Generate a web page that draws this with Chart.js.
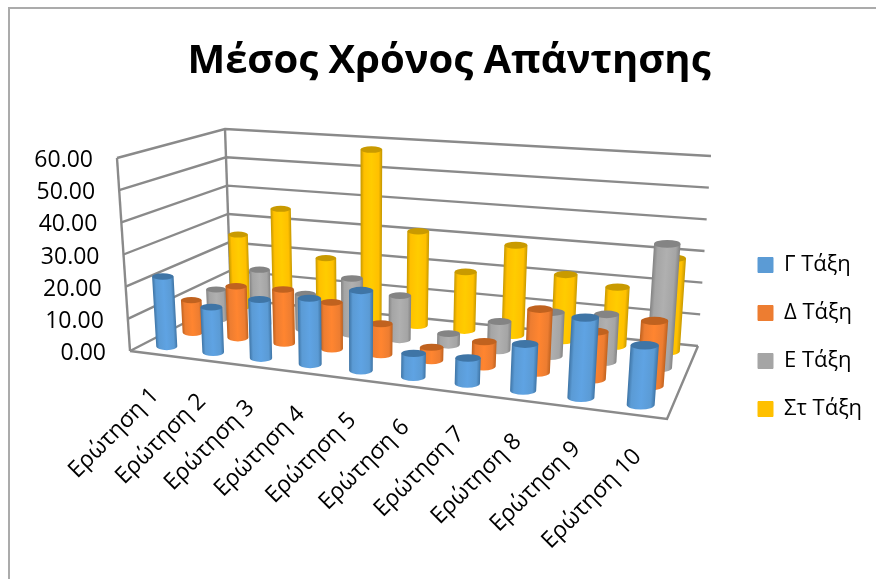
<!DOCTYPE html>
<html>
<head>
<meta charset="utf-8">
<title>Μέσος Χρόνος Απάντησης</title>
<script src="https://cdn.jsdelivr.net/npm/chart.js@4"></script>
<style>
  body { margin: 0; background: #fff; }
  #frame { position: absolute; left: 8px; top: 7px; width: 868px; height: 572px; border-left: 2px solid #ababab; border-top: 2px solid #ababab; box-sizing: border-box; }
  #graphique { position: absolute; left: 0; top: 0; }
</style>
</head>
<body>
<div id="frame"></div>
<canvas id="graphique" width="876" height="579"></canvas>
<script>
const categories = ['Ερώτηση 1', 'Ερώτηση 2', 'Ερώτηση 3', 'Ερώτηση 4', 'Ερώτηση 5', 'Ερώτηση 6', 'Ερώτηση 7', 'Ερώτηση 8', 'Ερώτηση 9', 'Ερώτηση 10'];
const seriesNames = ['Γ Τάξη', 'Δ Τάξη', 'Ε Τάξη', 'Στ Τάξη'];
const tickValues = [0, 10, 20, 30, 40, 50, 60];
const tickLabels = ['0.00', '10.00', '20.00', '30.00', '40.00', '50.00', '60.00'];

const gTaxi = [22, 14, 18, 20, 24, 7, 7.5, 13.5, 23, 17];
const dTaxi = [10.5, 16.5, 17, 14.5, 9.5, 4, 7.5, 19, 14, 19];
const eTaxi = [10, 18, 11.5, 18, 14, 3.5, 9, 13.5, 14.5, 37.5];
const stTaxi = [25, 35, 19.5, 57, 31, 19, 29, 21, 18.5, 29];

const seriesValues = [gTaxi, dTaxi, eTaxi, stTaxi];
const bodyColors = ['#5b9bd5', '#ed7d31', '#a5a5a5', '#ffc000'];
const lightColors = ['#5fa3e3', '#ff8530', '#b0b0b0', '#ffcc00'];
const darkColors = ['#3f75a6', '#c0621f', '#848484', '#c99a00'];

// coins du plancher (avant-gauche, avant-droit, arriere-droit, arriere-gauche)
// et decalage de chaque coin pour la hauteur maximale de l'axe
const floorBox = [[130, 351], [667, 419], [698, 346], [231, 299]];
const roofOffset = [[-13, -193], [16, -215], [13, -190], [-6, -170]];
const TITLE_H = 82;
const LEFT_PAD = 22;

function homographie(q) {
  const [p0, p1, p2, p3] = q;
  const sx = p0[0] - p1[0] + p2[0] - p3[0], sy = p0[1] - p1[1] + p2[1] - p3[1];
  const dx1 = p1[0] - p2[0], dx2 = p3[0] - p2[0], dy1 = p1[1] - p2[1], dy2 = p3[1] - p2[1];
  const det = dx1 * dy2 - dx2 * dy1;
  const g = (sx * dy2 - dx2 * sy) / det, h = (dx1 * sy - sx * dy1) / det;
  const a = p1[0] - p0[0] + g * p1[0], b = p3[0] - p0[0] + h * p3[0];
  const d = p1[1] - p0[1] + g * p1[1], e = p3[1] - p0[1] + h * p3[1];
  return (u, v) => {
    const w = g * u + h * v + 1;
    return [(a * u + b * v + p0[0]) / w, (d * u + e * v + p0[1]) / w];
  };
}
const floorAt = homographie(floorBox);

// melange avec le bilineaire : la perspective pure serre trop le milieu
function plancher(u, v) {
  const h = floorAt(u, v);
  return [0, 1].map(k => {
    const b = (floorBox[0][k] * (1 - u) + floorBox[1][k] * u) * (1 - v) + (floorBox[3][k] * (1 - u) + floorBox[2][k] * u) * v;
    return h[k] * 0.8 + b * 0.2;
  });
}

// u : le long des categories, v : profondeur, val : hauteur
function projeter(u, v, val) {
  const f = plancher(u, v), t = val / 60;
  const mix = k => (roofOffset[0][k] * (1 - u) + roofOffset[1][k] * u) * (1 - v) + (roofOffset[3][k] * (1 - u) + roofOffset[2][k] * u) * v;
  return { x: f[0] + mix(0) * t, y: f[1] + mix(1) * t };
}

const DEMI_LARGEUR = 0.023;
function pointCylindre(i, s, val) {
  const u = (i + 0.5) / categories.length, v = (s + 0.5) / seriesNames.length;
  const g = projeter(u - DEMI_LARGEUR, v, val), d = projeter(u + DEMI_LARGEUR, v, val);
  return { ...projeter(u, v, val), r: Math.abs(d.x - g.x) / 2 };
}

const datasets = seriesNames.map((name, s) => ({
  label: name,
  backgroundColor: bodyColors[s],
  borderColor: bodyColors[s],
  pointRadius: 0,
  showLine: false,
  cylindre: s,
  data: seriesValues[s].flatMap((val, i) => [pointCylindre(i, s, 0), pointCylindre(i, s, val)])
}));

function ligneGrille(points) {
  datasets.push({ data: points, showLine: true, borderColor: '#8a8a8a', borderWidth: 2.4, pointRadius: 0, backgroundColor: '#8a8a8a' });
}
tickValues.forEach(val => {
  ligneGrille([projeter(0, 0, val), projeter(0, 1, val), projeter(1, 1, val)]);
});
ligneGrille([projeter(0, 0, 0), projeter(0, 0, 60)]);
ligneGrille([projeter(0, 1, 0), projeter(0, 1, 60)]);
ligneGrille([projeter(0, 0, 0), projeter(1, 0, 0), projeter(1, 1, 0)]);

const cylindres = {
  id: 'cylindres',
  afterDatasetDraw(chart, args) {
    const ds = chart.data.datasets[args.index];
    if (ds.cylindre === undefined) return;
    const ctx = chart.ctx, pts = args.meta.data, s = ds.cylindre;
    ctx.save();
    for (let i = 0; i < pts.length; i += 2) {
      const b = pts[i], t = pts[i + 1];
      const rb = ds.data[i].r, rt = ds.data[i + 1].r;
      const len = Math.hypot(t.x - b.x, t.y - b.y);
      const nx = (b.y - t.y) / len, ny = (t.x - b.x) / len;
      const grad = ctx.createLinearGradient(b.x - nx * rb, b.y - ny * rb, b.x + nx * rb, b.y + ny * rb);
      grad.addColorStop(0, darkColors[s]);
      grad.addColorStop(0.15, bodyColors[s]);
      grad.addColorStop(0.5, lightColors[s]);
      grad.addColorStop(0.85, bodyColors[s]);
      grad.addColorStop(1, darkColors[s]);
      ctx.fillStyle = grad;
      ctx.beginPath();
      ctx.moveTo(t.x - rt, t.y);
      ctx.lineTo(b.x - rb, b.y);
      ctx.ellipse(b.x, b.y, rb, rb * 0.34, 0, Math.PI, 0, true);
      ctx.lineTo(t.x + rt, t.y);
      ctx.closePath();
      ctx.fill();
      ctx.fillStyle = darkColors[s];
      ctx.beginPath();
      ctx.ellipse(t.x, t.y, rt, rt * 0.3, 0, 0, Math.PI * 2);
      ctx.fill();
    }
    ctx.restore();
  }
};

// etiquettes des axes et deplacement de la legende
const etiquettes = {
  id: 'etiquettes',
  afterLayout(chart) {
    const l = chart.legend;
    l.left = 732;
    l.top = 228;
    l.right = 876;
    l.bottom = 579;
  },
  afterDraw(chart) {
    const ctx = chart.ctx, sx = chart.scales.x, sy = chart.scales.y;
    ctx.save();
    ctx.fillStyle = '#000';
    ctx.font = '23px "Open Sans"';
    ctx.textAlign = 'right';
    ctx.textBaseline = 'middle';
    tickLabels.forEach((txt, i) => {
      const p = projeter(0, 0, tickValues[i]);
      ctx.fillText(txt, sx.getPixelForValue(p.x) - 24, sy.getPixelForValue(p.y) + 2.5);
    });
    categories.forEach((txt, i) => {
      const p = projeter((i + 0.5) / categories.length, 0, 0);
      ctx.save();
      ctx.translate(sx.getPixelForValue(p.x) + 2, sy.getPixelForValue(p.y) + 38);
      ctx.rotate(-Math.PI / 4);
      ctx.fillText(txt, 0, 0);
      ctx.restore();
    });
    ctx.restore();
  }
};

new Chart(document.getElementById('graphique').getContext('2d'), {
  type: 'scatter',
  data: { datasets: datasets },
  plugins: [cylindres, etiquettes],
  options: {
    responsive: false,
    animation: false,
    events: [],
    layout: { autoPadding: false, padding: { left: LEFT_PAD } },
    scales: {
      x: { display: false, min: LEFT_PAD, max: 876 },
      y: { display: false, min: TITLE_H, max: 579, reverse: true }
    },
    plugins: {
      tooltip: { enabled: false },
      title: {
        display: true,
        text: 'Μέσος Χρόνος Απάντησης',
        color: '#000',
        position: 'top',
        font: { family: '"Open Sans"', size: 40, weight: 'bold', lineHeight: 1 },
        padding: { top: 42, bottom: 0 }
      },
      legend: {
        position: 'chartArea',
        align: 'start',
        labels: {
          boxWidth: 15,
          boxHeight: 15,
          padding: 26,
          color: '#000',
          font: { family: '"Open Sans"', size: 22 },
          filter: item => item.text
        }
      }
    }
  }
});
</script>
</body>
</html>
